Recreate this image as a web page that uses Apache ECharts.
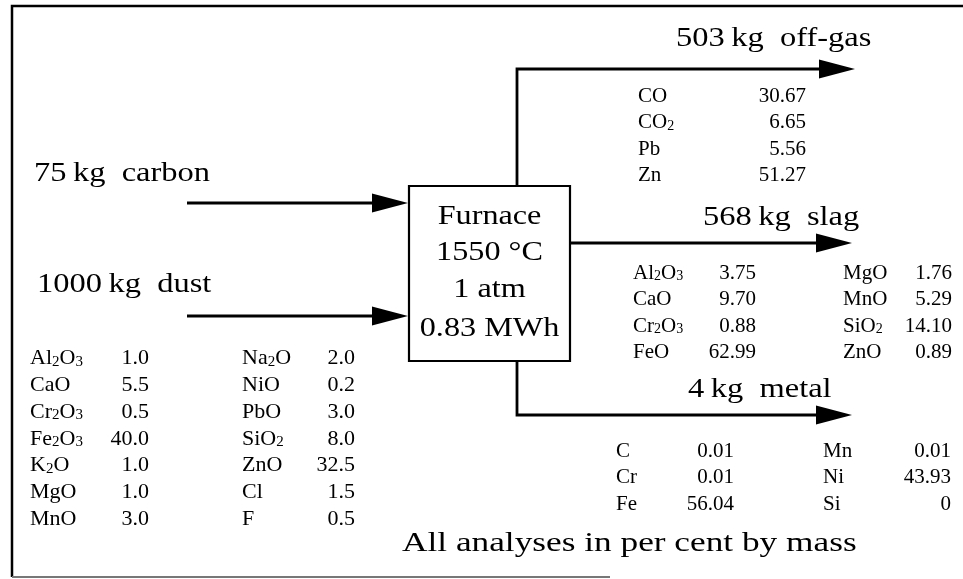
<!DOCTYPE html>
<html>
<head>
<meta charset="utf-8">
<title>Furnace mass balance</title>
<script src="https://cdn.jsdelivr.net/npm/echarts@6/dist/echarts.min.js"></script>
<style>
html, body { margin: 0; padding: 0; background: #fff; }
#main { width: 963px; height: 579px; }
</style>
</head>
<body>
<div id="main"></div>
<script>
// streams into and out of the furnace (kg)
var inNames = ['carbon', 'dust'];
var inMass = [75, 1000];
var outNames = ['off-gas', 'slag', 'metal'];
var outMass = [503, 568, 4];
var furnaceText = ['Furnace', '1550 \u00b0C', '1 atm', '0.83 MWh'];
var note = 'All analyses in per cent by mass';

// analyses, per cent by mass
var dustNames = ['Al2O3', 'CaO', 'Cr2O3', 'Fe2O3', 'K2O', 'MgO', 'MnO',
  'Na2O', 'NiO', 'PbO', 'SiO2', 'ZnO', 'Cl', 'F'];
var dustValues = [1.0, 5.5, 0.5, 40.0, 1.0, 1.0, 3.0,
  2.0, 0.2, 3.0, 8.0, 32.5, 1.5, 0.5];
var gasNames = ['CO', 'CO2', 'Pb', 'Zn'];
var gasValues = [30.67, 6.65, 5.56, 51.27];
var slagNames = ['Al2O3', 'CaO', 'Cr2O3', 'FeO', 'MgO', 'MnO', 'SiO2', 'ZnO'];
var slagValues = [3.75, 9.70, 0.88, 62.99, 1.76, 5.29, 14.10, 0.89];
var metalNames = ['C', 'Cr', 'Fe', 'Mn', 'Ni', 'Si'];
var metalValues = [0.01, 0.01, 56.04, 0.01, 43.93, 0];

var flowNames = inNames.concat(outNames);
var flowMass = inMass.concat(outMass);

// layout, in page pixels (the hidden axes map 1:1 to the canvas)
var flowPaths = [
  [[187, 203], [408, 203]],
  [[187, 316], [408, 316]],
  [[517, 186], [517, 69], [855, 69]],
  [[570, 243], [852, 243]],
  [[517, 361], [517, 415], [852, 415]]
];
var flowLabelPos = [[34, 174], [37, 285], [676, 39], [703, 218], [688, 390]];
var headLen = 36, headHalf = 9.5;

var tables = [
  { names: dustNames, values: dustValues, dec: 1, rows: 7, nameX: [30, 242], valX: [149, 355], y0: 358.5, dy: 26.75, size: 22 },
  { names: gasNames, values: gasValues, dec: 2, rows: 4, nameX: [638], valX: [806], y0: 96.7, dy: 26.2, size: 21 },
  { names: slagNames, values: slagValues, dec: 2, rows: 4, nameX: [633, 843], valX: [756, 952], y0: 273.3, dy: 26.5, size: 21 },
  { names: metalNames, values: metalValues, dec: 2, rows: 3, nameX: [616, 823], valX: [734, 951], y0: 451.3, dy: 26.4, size: 21 }
];

var serif = 'Liberation Serif';
var bigSize = 28;

function fmt(v, d) {
  return v === 0 ? '0' : v.toFixed(d);
}
function formula(name) {
  return name.replace(/(\d)/g, '{s|$1}');
}

var tableRows = [];
tables.forEach(function (t, ti) {
  t.names.forEach(function (n, i) { tableRows.push([ti, i]); });
});

var chart = echarts.init(document.getElementById('main'));

var option = {
  animation: false,
  backgroundColor: '#fff',
  grid: { left: 0, right: 0, top: 0, bottom: 0 },
  xAxis: { type: 'value', min: 0, max: 963, show: false },
  yAxis: { type: 'value', min: 0, max: 579, inverse: true, show: false },
  series: [
    {
      // outer frame and the furnace box
      type: 'custom',
      silent: true,
      data: [[0, 0]],
      renderItem: function (params, api) {
        var p = function (x, y) { return api.coord([x, y]); };
        return {
          type: 'group',
          children: [
            { type: 'polyline', shape: { points: [p(12, 577), p(12, 6), p(963, 6)] },
              style: { stroke: '#000', lineWidth: 2.5, fill: null } },
            { type: 'polyline', shape: { points: [p(12, 577), p(610, 577)] },
              style: { stroke: '#777', lineWidth: 2, fill: null } },
            { type: 'polygon', shape: { points: [p(409, 186), p(570, 186), p(570, 361), p(409, 361)] },
              style: { stroke: '#000', lineWidth: 2.2, fill: null } }
          ]
        };
      }
    },
    {
      // arrows with the stream labels
      type: 'custom',
      silent: true,
      data: flowNames.map(function (n, i) { return [i, 0]; }),
      renderItem: function (params, api) {
        var i = params.dataIndex;
        var pts = flowPaths[i].map(function (q) { return api.coord(q); });
        var n = pts.length;
        var tip = pts[n - 1], prev = pts[n - 2];
        var dx = tip[0] - prev[0], dy = tip[1] - prev[1];
        var len = Math.sqrt(dx * dx + dy * dy);
        var ux = dx / len, uy = dy / len;
        var base = [tip[0] - ux * headLen, tip[1] - uy * headLen];
        var shaft = pts.slice(0, n - 1).concat([[base[0] + ux * 2, base[1] + uy * 2]]);
        var head = [tip,
          [base[0] - uy * headHalf, base[1] + ux * headHalf],
          [base[0] + uy * headHalf, base[1] - ux * headHalf]];
        var lab = api.coord(flowLabelPos[i]);
        return {
          type: 'group',
          children: [
            { type: 'polyline', shape: { points: shaft },
              style: { stroke: '#000', lineWidth: 2.8, fill: null, lineJoin: 'miter' } },
            { type: 'polygon', shape: { points: head }, style: { fill: '#000' } },
            { type: 'text', x: lab[0], y: lab[1], scaleX: 1.16,
              style: { text: flowMass[i] + '\u2009kg  ' + flowNames[i], fontSize: bigSize,
                fontFamily: serif, fill: '#000', align: 'left', verticalAlign: 'middle' } }
          ]
        };
      }
    },
    {
      // furnace conditions and the footnote
      type: 'custom',
      silent: true,
      data: [[0, 0]],
      renderItem: function (params, api) {
        var lineY = [216.5, 253, 290, 328.7];
        var kids = furnaceText.map(function (s, k) {
          var c = api.coord([489.5, lineY[k]]);
          return { type: 'text', x: c[0], y: c[1], scaleX: 1.15,
            style: { text: s, fontSize: bigSize, fontFamily: serif, fill: '#000',
              align: 'center', verticalAlign: 'middle' } };
        });
        var nc = api.coord([402, 544]);
        kids.push({ type: 'text', x: nc[0], y: nc[1], scaleX: 1.26,
          style: { text: note, fontSize: bigSize, fontFamily: serif, fill: '#000',
            align: 'left', verticalAlign: 'middle' } });
        return { type: 'group', children: kids };
      }
    },
    {
      // composition tables
      type: 'custom',
      silent: true,
      data: tableRows,
      renderItem: function (params, api) {
        var row = tableRows[params.dataIndex];
        var t = tables[row[0]], i = row[1];
        var col = Math.floor(i / t.rows), r = i % t.rows;
        var y = t.y0 + r * t.dy;
        var a = api.coord([t.nameX[col], y]);
        var b = api.coord([t.valX[col], y]);
        return {
          type: 'group',
          children: [
            { type: 'text', x: a[0], y: a[1],
              style: { text: formula(t.names[i]), fontSize: t.size, fontFamily: serif,
                lineHeight: t.size, fill: '#000', align: 'left', verticalAlign: 'middle',
                rich: { s: { fontSize: Math.round(t.size * 0.66), fontFamily: serif,
                  lineHeight: Math.round(t.size * 0.66), verticalAlign: 'bottom', fill: '#000' } } } },
            { type: 'text', x: b[0], y: b[1],
              style: { text: fmt(t.values[i], t.dec), fontSize: t.size, fontFamily: serif,
                fill: '#000', align: 'right', verticalAlign: 'middle' } }
          ]
        };
      }
    }
  ]
};

chart.setOption(option);
</script>
</body>
</html>
